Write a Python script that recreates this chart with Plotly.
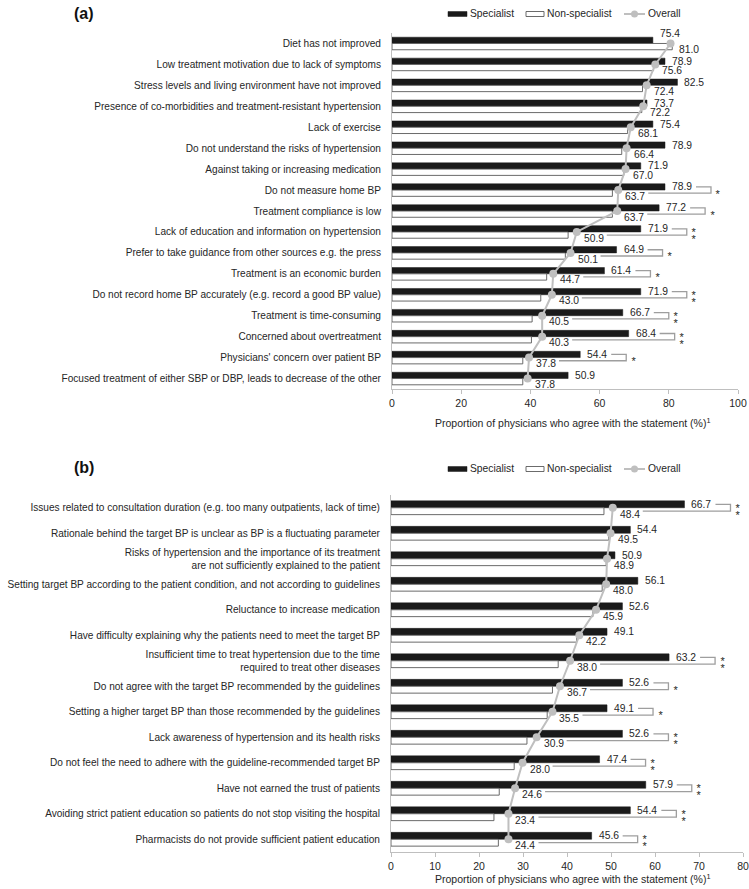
import plotly.graph_objects as go

# ---------------- data ----------------
cats_a = [
    "Diet has not improved",
    "Low treatment motivation due to lack of symptoms",
    "Stress levels and living environment have not improved",
    "Presence of co-morbidities and treatment-resistant hypertension",
    "Lack of exercise",
    "Do not understand the risks of hypertension",
    "Against taking or increasing medication",
    "Do not measure home BP",
    "Treatment compliance is low",
    "Lack of education and information on hypertension",
    "Prefer to take guidance from other sources e.g. the press",
    "Treatment is an economic burden",
    "Do not record home BP accurately (e.g. record a good BP value)",
    "Treatment is time-consuming",
    "Concerned about overtreatment",
    "Physicians' concern over patient BP",
    "Focused treatment of either SBP or DBP, leads to decrease of the other",
]
spec_a = [75.4, 78.9, 82.5, 73.7, 75.4, 78.9, 71.9, 78.9, 77.2, 71.9, 64.9, 61.4, 71.9, 66.7, 68.4, 54.4, 50.9]
nons_a = [81.0, 75.6, 72.4, 72.2, 68.1, 66.4, 67.0, 63.7, 63.7, 50.9, 50.1, 44.7, 43.0, 40.5, 40.3, 37.8, 37.8]
overall_a = [80.5, 76.1, 73.6, 72.6, 69.0, 67.8, 67.5, 65.4, 65.1, 53.4, 51.6, 46.6, 46.2, 43.4, 43.4, 39.6, 39.2]
sig_a = ["", "", "", "", "", "", "", "*", "*", "**", "*", "*", "**", "**", "**", "*", ""]
ticks_a = [0, 20, 40, 60, 80, 100]

cats_b = [
    "Issues related to consultation duration (e.g. too many outpatients, lack of time)",
    "Rationale behind the target BP is unclear as BP is a fluctuating parameter",
    "Risks of hypertension and the importance of its treatment<br>are not sufficiently explained to the patient",
    "Setting target BP according to the patient condition, and not according to guidelines",
    "Reluctance to increase medication",
    "Have difficulty explaining why the patients need to meet the target BP",
    "Insufficient time to treat hypertension due to the time<br>required to treat other diseases",
    "Do not agree with the target BP recommended by the guidelines",
    "Setting a higher target BP than those recommended by the guidelines",
    "Lack awareness of hypertension and its health risks",
    "Do not feel the need to adhere with the guideline-recommended target BP",
    "Have not earned the trust of patients",
    "Avoiding strict patient education so patients do not stop visiting the hospital",
    "Pharmacists do not provide sufficient patient education",
]
spec_b = [66.7, 54.4, 50.9, 56.1, 52.6, 49.1, 63.2, 52.6, 49.1, 52.6, 47.4, 57.9, 54.4, 45.6]
nons_b = [48.4, 49.5, 48.9, 48.0, 45.9, 42.2, 38.0, 36.7, 35.5, 30.9, 28.0, 24.6, 23.4, 24.4]
overall_b = [50.4, 49.9, 49.1, 48.9, 46.6, 42.8, 40.7, 38.4, 36.7, 33.1, 29.9, 28.2, 26.7, 26.7]
sig_b = ["**", "", "", "", "", "", "**", "*", "*", "**", "**", "**", "**", "**"]
ticks_b = [0, 10, 20, 30, 40, 50, 60, 70, 80]

AXIS_TITLE = "Proportion of physicians who agree with the statement (%)<sup>1</sup>"

# ---------------- style / layout constants ----------------
W, H = 749, 889
FONT = "Liberation Sans, Arial, sans-serif"
TXT = "#262626"
BLACK = "#1a1a1a"
GREY = "#bfbfbf"
BRACKET = "#9e9e9e"
FS = 10.3
FS_CAT = 10.1


def fx(p):
    return p / W


def fy(p):
    return 1 - p / H


panels = [
    dict(cats=cats_a, spec=spec_a, nons=nons_a, ov=overall_a, sig=sig_a, ticks=ticks_a,
         xr=[0, 100], xpx=(392, 738), ypx=(33, 389), w=0.30, xa="x", ya="y",
         label="(a)", label_y=14, legend_y=14, title_y=423),
    dict(cats=cats_b, spec=spec_b, nons=nons_b, ov=overall_b, sig=sig_b, ticks=ticks_b,
         xr=[0, 80], xpx=(391, 743), ypx=(495, 852), w=0.27, xa="x2", ya="y2",
         label="(b)", label_y=467, legend_y=469, title_y=878),
]

fig = go.Figure()
annotations = []
shapes = []

for k, p in enumerate(panels):
    n = len(p["cats"])
    idx = list(range(n))
    w = p["w"]
    upx = (p["xpx"][1] - p["xpx"][0]) / (p["xr"][1] - p["xr"][0])  # pixels per unit

    fig.add_trace(go.Bar(
        x=p["spec"], y=idx, orientation="h", width=w, offset=-w,
        marker=dict(color=BLACK, line=dict(color=BLACK, width=0.5)),
        name="Specialist", showlegend=False, xaxis=p["xa"], yaxis=p["ya"],
    ))
    fig.add_trace(go.Bar(
        x=p["nons"], y=idx, orientation="h", width=w, offset=0,
        marker=dict(color="white", line=dict(color="#5a5a5a", width=0.9)),
        name="Non-specialist", showlegend=False, xaxis=p["xa"], yaxis=p["ya"],
    ))

    # significance brackets
    bx, by = [], []
    for i in idx:
        s = p["sig"][i]
        if not s:
            continue
        xr_ = p["spec"][i] + 46 / upx
        xt = p["spec"][i] + 31 / upx
        xb = max(p["nons"][i], p["ov"][i]) + 30 / upx
        bx += [xt, xr_, xr_, xb, None]
        by += [i - w / 2, i - w / 2, i + w / 2, i + w / 2, None]
        shifts = [-3] if s == "*" else [0.5, -6.5]
        for ys in shifts:
            annotations.append(dict(
                x=xr_, y=i, xref=p["xa"], yref=p["ya"], text="*", showarrow=False,
                xanchor="center", yanchor="middle", xshift=7.5, yshift=ys,
                height=7, width=8, valign="middle",
                font=dict(family=FONT, size=11, color=TXT)))
    fig.add_trace(go.Scatter(
        x=bx, y=by, mode="lines", line=dict(color=BRACKET, width=1.3),
        hoverinfo="skip", showlegend=False, xaxis=p["xa"], yaxis=p["ya"],
    ))

    fig.add_trace(go.Scatter(
        x=p["ov"], y=idx, mode="lines+markers",
        line=dict(color=GREY, width=2), marker=dict(color=GREY, size=8),
        name="Overall", showlegend=False, xaxis=p["xa"], yaxis=p["ya"],
    ))

    # value labels
    for i in idx:
        up = 7 if p["ov"][i] > p["spec"][i] else 0
        annotations.append(dict(
            x=p["spec"][i], y=i - w / 2, xref=p["xa"], yref=p["ya"],
            text=f"{p['spec'][i]:.1f}", showarrow=False, xanchor="left", yanchor="middle",
            xshift=5, yshift=up, font=dict(family=FONT, size=FS, color=TXT)))
        annotations.append(dict(
            x=max(p["nons"][i], p["ov"][i]), y=i + w / 2, xref=p["xa"], yref=p["ya"],
            text=f"{p['nons'][i]:.1f}", showarrow=False, xanchor="left", yanchor="middle",
            xshift=5, yshift=-3, font=dict(family=FONT, size=FS, color=TXT)))

    # axes
    sfx = "" if k == 0 else "2"
    fig.update_layout(**{
        "xaxis" + sfx: dict(
            domain=[fx(p["xpx"][0]), fx(p["xpx"][1])], range=p["xr"], anchor=p["ya"],
            tickvals=p["ticks"], ticktext=[str(t) for t in p["ticks"]], automargin=False,
            showline=True, linecolor=GREY, linewidth=1, ticks="outside", ticklen=4,
            tickcolor=GREY, showgrid=False, zeroline=False,
            tickfont=dict(family=FONT, size=10.5, color=TXT)),
        "yaxis" + sfx: dict(
            domain=[fy(p["ypx"][1]), fy(p["ypx"][0])], range=[n - 0.5, -0.5],
            anchor=p["xa"], tickvals=idx, ticktext=p["cats"], showline=True, automargin=False,
            linecolor=GREY, linewidth=1, ticks="outside", ticklen=8,
            tickcolor="rgba(0,0,0,0)", showgrid=False, zeroline=False,
            tickfont=dict(family=FONT, size=FS_CAT, color=TXT)),
    })

    # axis title
    annotations.append(dict(
        x=fx(572), y=fy(p["title_y"]), xref="paper", yref="paper", text=AXIS_TITLE,
        showarrow=False, xanchor="center", yanchor="middle",
        font=dict(family=FONT, size=10.5, color=TXT)))
    # panel label
    annotations.append(dict(
        x=fx(72), y=fy(p["label_y"]), xref="paper", yref="paper", text="<b>" + p["label"] + "</b>",
        showarrow=False, xanchor="left", yanchor="middle",
        font=dict(family=FONT, size=16, color="#111111")))

    # custom legend
    ly = p["legend_y"]
    shapes.append(dict(type="rect", xref="paper", yref="paper",
                       x0=fx(448), x1=fx(467), y0=fy(ly + 2.5), y1=fy(ly - 2.5),
                       fillcolor=BLACK, line=dict(color=BLACK, width=0.5)))
    shapes.append(dict(type="rect", xref="paper", yref="paper",
                       x0=fx(526), x1=fx(544), y0=fy(ly + 2.5), y1=fy(ly - 2.5),
                       fillcolor="white", line=dict(color="#5a5a5a", width=0.9)))
    shapes.append(dict(type="line", xref="paper", yref="paper",
                       x0=fx(624), x1=fx(645), y0=fy(ly), y1=fy(ly),
                       line=dict(color=GREY, width=2)))
    shapes.append(dict(type="circle", xref="paper", yref="paper",
                       x0=fx(631), x1=fx(638), y0=fy(ly + 3.5), y1=fy(ly - 3.5),
                       fillcolor=GREY, line=dict(color=GREY, width=0)))
    for xpos, t in [(468, "Specialist"), (545, "Non-specialist"), (646, "Overall")]:
        annotations.append(dict(
            x=fx(xpos), y=fy(ly), xref="paper", yref="paper", text=t, showarrow=False,
            xanchor="left", yanchor="middle", font=dict(family=FONT, size=FS, color=TXT)))

fig.update_layout(
    width=W, height=H, margin=dict(l=0, r=0, t=0, b=0, autoexpand=False),
    paper_bgcolor="white", plot_bgcolor="white", barmode="overlay",
    showlegend=False, annotations=annotations, shapes=shapes,
    font=dict(family=FONT, size=FS, color=TXT), hovermode=False,
)

# remove the browser's default page margin so the 749x889 figure fills the window exactly
fig.write_html(
    "out.html",
    config={"displayModeBar": False},
    post_script="document.body.style.margin='0';document.body.style.overflow='hidden';",
)
